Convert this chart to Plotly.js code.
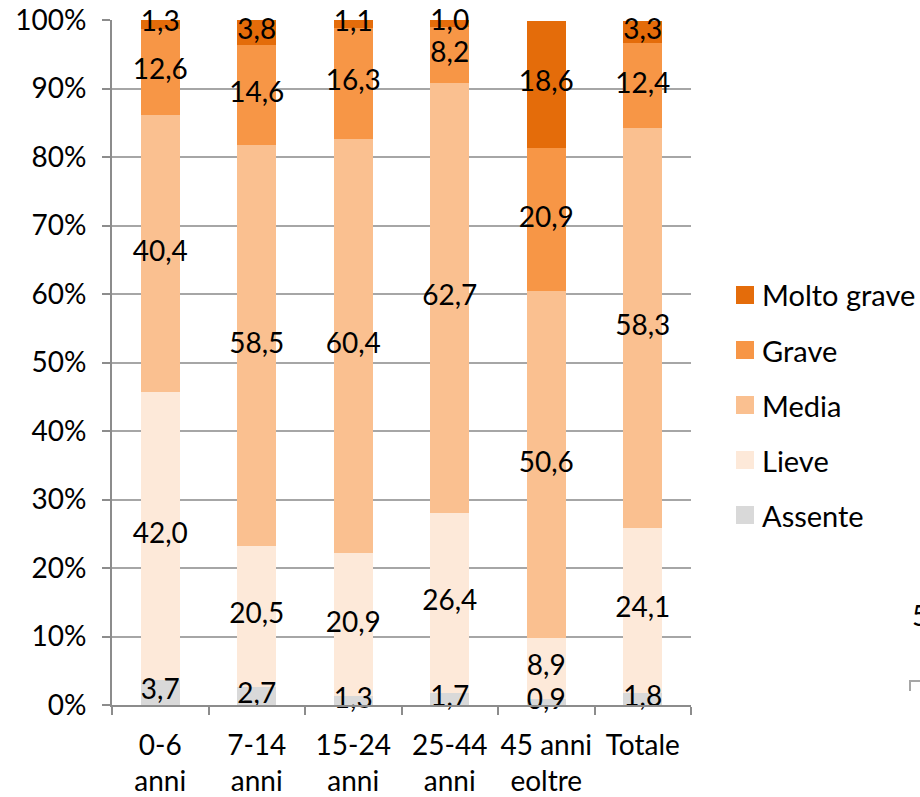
<!DOCTYPE html>
<html>
<head>
<meta charset="utf-8">
<script src="https://cdn.plot.ly/plotly-3.0.1.min.js"></script>
<style>
  html, body { margin: 0; padding: 0; background: #fff; }
  #chart { width: 920px; height: 797px; }
</style>
</head>
<body>
<div id="chart"></div>
<script>
// Age groups (two-line tick labels)
const categories = ['0-6<br>anni', '7-14<br>anni', '15-24<br>anni', '25-44<br>anni', '45 anni<br>eoltre', 'Totale'];

// Share (%) by severity level, bottom to top of each stack
const assente    = [3.7, 2.7, 1.3, 1.7, 0.9, 1.8];
const lieve      = [42.0, 20.5, 20.9, 26.4, 8.9, 24.1];
const media      = [40.4, 58.5, 60.4, 62.7, 50.6, 58.3];
const grave      = [12.6, 14.6, 16.3, 8.2, 20.9, 12.4];
const moltoGrave = [1.3, 3.8, 1.1, 1.0, 18.6, 3.3];

const seriesNames = ['Assente', 'Lieve', 'Media', 'Grave', 'Molto grave'];
const seriesData = [assente, lieve, media, grave, moltoGrave];
const seriesColors = ['#D9D9D9', '#FDE9D9', '#FAC090', '#F79646', '#E46C0A'];

const yTicks = [0, 10, 20, 30, 40, 50, 60, 70, 80, 90, 100];

const FONT = 'Lato, "Open Sans", sans-serif';
const FS = 28;

const W = 920, H = 797;
const M = { l: 112, r: 229, t: 20, b: 92 };
const plotW = W - M.l - M.r, plotH = H - M.t - M.b;
// pixel -> paper coordinates (for the key at the right)
const px = x => (x - M.l) / plotW;
const py = y => (H - M.b - y) / plotH;

const fmt = v => v.toFixed(1).replace('.', ',');

const traces = [];
seriesData.forEach((vals, i) => {
  traces.push({
    type: 'bar',
    name: seriesNames[i],
    x: categories,
    y: vals,
    width: 0.4,
    marker: { color: seriesColors[i], line: { width: 0 } },
    showlegend: false,
    hoverinfo: 'skip'
  });
});

// Value labels centred in each stacked segment
const labX = [], labY = [], labT = [];
categories.forEach((c, j) => {
  let base = 0;
  seriesData.forEach(vals => {
    labX.push(c);
    labY.push(base + vals[j] / 2);
    labT.push(fmt(vals[j]));
    base += vals[j];
  });
});
traces.push({
  type: 'scatter',
  mode: 'text',
  x: labX,
  y: labY,
  text: labT,
  textposition: 'middle center',
  textfont: { family: FONT, size: FS, color: '#000' },
  showlegend: false,
  hoverinfo: 'skip',
  cliponaxis: false
});

// Key: swatch + name, top entry is the most severe level
const shapes = [];
const annotations = [];
const keyTop = 295, keyStep = 55, sw = 18, keyX = 736;
for (let k = 0; k < seriesNames.length; k++) {
  const i = seriesNames.length - 1 - k;
  const cy = keyTop + k * keyStep;
  shapes.push({
    type: 'rect', xref: 'paper', yref: 'paper',
    x0: px(keyX), x1: px(keyX + sw),
    y0: py(cy + sw / 2), y1: py(cy - sw / 2),
    fillcolor: seriesColors[i], line: { width: 0 }
  });
  annotations.push({
    xref: 'paper', yref: 'paper',
    x: px(keyX + sw + 6), y: py(cy),
    xanchor: 'left', yanchor: 'middle',
    text: seriesNames[i], showarrow: false,
    font: { family: FONT, size: 29, color: '#000' }
  });
}

// Edge of the neighbouring panel at the right border
annotations.push({
  xref: 'paper', yref: 'paper',
  x: px(910), y: py(615),
  xanchor: 'left', yanchor: 'middle',
  text: '5', showarrow: false,
  font: { family: FONT, size: 28, color: '#000' }
});
shapes.push({
  type: 'path', xref: 'paper', yref: 'paper',
  path: `M${px(910)},${py(691)} L${px(910)},${py(681)} L${px(922)},${py(681)}`,
  line: { color: '#A6A6A6', width: 2 }
});

const layout = {
  width: W,
  height: H,
  margin: M,
  paper_bgcolor: '#fff',
  plot_bgcolor: '#fff',
  barmode: 'stack',
  showlegend: false,
  font: { family: FONT, size: FS, color: '#000' },
  shapes: shapes,
  annotations: annotations,
  xaxis: {
    type: 'category',
    showgrid: false,
    showline: true,
    linecolor: '#8C8C8C',
    linewidth: 2,
    ticks: 'outside',
    tickson: 'boundaries',
    ticklen: 8,
    tickcolor: '#8C8C8C',
    tickwidth: 2,
    tickangle: 0,
    ticklabelstandoff: 14,
    tickfont: { family: FONT, size: FS, color: '#000' },
    zeroline: false,
    automargin: false,
    fixedrange: true
  },
  yaxis: {
    range: [0, 100],
    tickvals: yTicks,
    ticktext: yTicks.map(v => v + '%'),
    showgrid: true,
    gridcolor: '#A6A6A6',
    gridwidth: 2,
    showline: true,
    linecolor: '#8C8C8C',
    linewidth: 2,
    ticks: 'outside',
    ticklen: 8,
    tickcolor: '#8C8C8C',
    tickwidth: 2,
    ticklabelstandoff: 10,
    tickfont: { family: FONT, size: FS, color: '#000' },
    zeroline: false,
    automargin: false,
    fixedrange: true
  }
};

Plotly.newPlot('chart', traces, layout, { displayModeBar: false, staticPlot: true });
</script>
</body>
</html>
